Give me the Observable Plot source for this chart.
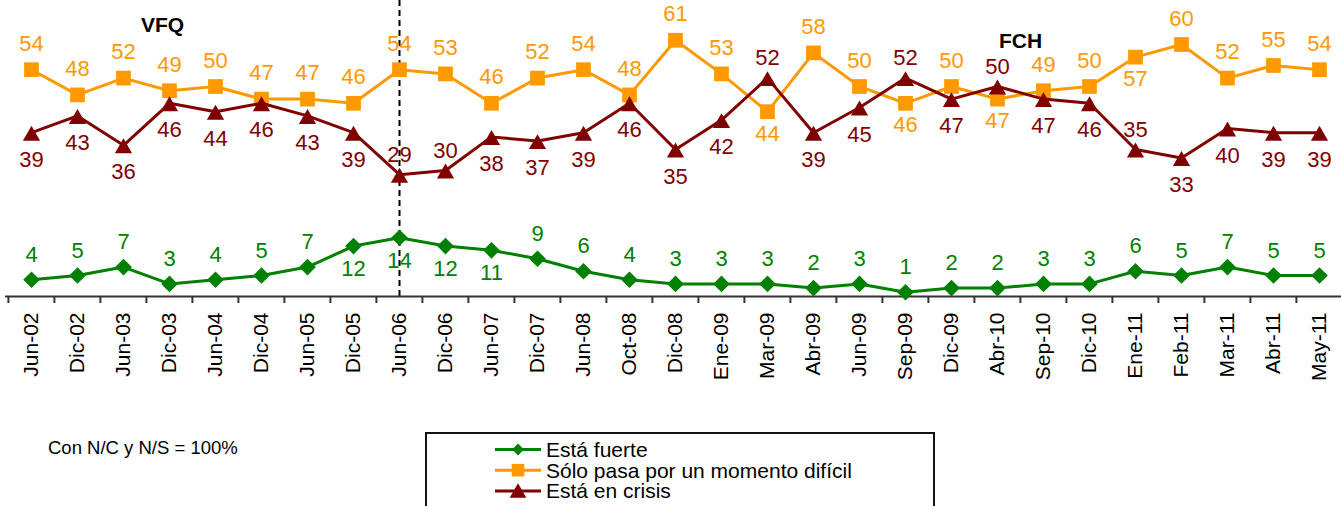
<!DOCTYPE html>
<html>
<head>
<meta charset="utf-8">
<script src="https://cdn.jsdelivr.net/npm/d3@7"></script>
<script src="https://cdn.jsdelivr.net/npm/@observablehq/plot@0.6"></script>
<style>
  html, body { margin: 0; padding: 0; background: #fff; }
  body { font-family: "Liberation Sans", Arial, sans-serif; }
  #wrap { width: 1341px; height: 506px; overflow: hidden; position: relative; }
  #wrap svg { display: block; }
</style>
</head>
<body>
<div id="wrap"></div>
<script>
// ---------- data ----------
const categories = ["Jun-02","Dic-02","Jun-03","Dic-03","Jun-04","Dic-04","Jun-05","Dic-05","Jun-06","Dic-06",
  "Jun-07","Dic-07","Jun-08","Oct-08","Dic-08","Ene-09","Mar-09","Abr-09","Jun-09","Sep-09",
  "Dic-09","Abr-10","Sep-10","Dic-10","Ene-11","Feb-11","Mar-11","Abr-11","May-11"];
const fuerte  = [4,5,7,3,4,5,7,12,14,12,11,9,6,4,3,3,3,2,3,1,2,2,3,3,6,5,7,5,5];
const dificil = [54,48,52,49,50,47,47,46,54,53,46,52,54,48,61,53,44,58,50,46,50,47,49,50,57,60,52,55,54];
const crisis  = [39,43,36,46,44,46,43,39,29,30,38,37,39,46,35,42,52,39,45,52,47,50,47,46,35,33,40,39,39];
const seriesNames = ["Está fuerte","Sólo pasa por un momento difícil","Está en crisis"];
// label placement: a = above the point, b = below
const fuertePos  = "a a a a a a a b b b b a a a a a a a a a a a a a a a a a a".split(" ");
const dificilPos = "a a a a a a a a a a a a a a a a b a a b a b a a b a a a a".split(" ");
const crisisPos  = "b b b b b b b b a a b b b b b b a b b a b a b b a b b b b".split(" ");
const periodLabels = [{label: "VFQ", cat: "Dic-03"}, {label: "FCH", cat: "Sep-10"}];
const dividerAt = ["Jun-06"];
const caption = "Con N/C y N/S = 100%";

// ---------- layout ----------
const W = 1341, H = 400;
const xRange = [5, 1345];
const bw = (xRange[1] - xRange[0]) / categories.length;
const FONT = '"Liberation Sans", Arial, sans-serif';

const series = [
  {values: fuerte,  pos: fuertePos,  color: "#008000", symbol: "diamond2", r: 7.5, mdy: 0, up: -25, down: 23},
  {values: dificil, pos: dificilPos, color: "#FF9900", symbol: "square",   r: 8.3, mdy: 0, up: -26, down: 22},
  {values: crisis,  pos: crisisPos,  color: "#800000", symbol: "triangle", r: 6.4, mdy: 3, up: -20, down: 27}
];

const marks = [
  Plot.ruleX(dividerAt, {x: d => d, stroke: "#000", strokeWidth: 2, strokeDasharray: "6,4", insetTop: -2}),
  Plot.ruleY([0], {stroke: "#333", strokeWidth: 2}),
  Plot.axisX({tickSize: 7, dx: -bw / 2, tickFormat: () => "", stroke: "#333", strokeWidth: 2, label: null}),
  Plot.axisX({tickSize: 0, tickRotate: -90, tickPadding: 16, fontSize: 21, fill: "#000", label: null})
];

for (const s of series) {
  const rows = categories.map((c, i) => ({cat: c, value: s.values[i], pos: s.pos[i]}));
  marks.push(Plot.line(rows, {x: "cat", y: "value", stroke: s.color, strokeWidth: 3}));
  marks.push(Plot.dot(rows, {x: "cat", y: "value", symbol: s.symbol, r: s.r, fill: s.color, stroke: "none", dy: s.mdy}));
  marks.push(Plot.text(rows.filter(d => d.pos === "a"), {x: "cat", y: "value", text: d => String(d.value), fill: s.color, fontSize: 22, dy: s.up}));
  marks.push(Plot.text(rows.filter(d => d.pos === "b"), {x: "cat", y: "value", text: d => String(d.value), fill: s.color, fontSize: 22, dy: s.down}));
}

marks.push(Plot.text(periodLabels.slice(0, 1), {x: "cat", text: "label", frameAnchor: "top", dx: -7, dy: 15, fontWeight: "bold", fontSize: 21, fill: "#000"}));
marks.push(Plot.text(periodLabels.slice(1), {x: "cat", text: "label", frameAnchor: "top", dx: -23, dy: 31, fontWeight: "bold", fontSize: 21, fill: "#000"}));

const chart = Plot.plot({
  width: W,
  height: H,
  marginTop: 2,
  marginBottom: 104,
  marginLeft: 5,
  marginRight: 0,
  x: {type: "band", domain: categories, range: xRange, padding: 0, axis: null, label: null},
  y: {domain: [0, 70], axis: null},
  style: {fontFamily: FONT, background: "#fff", overflow: "visible"},
  marks
});

const wrap = document.getElementById("wrap");
wrap.appendChild(chart);

// ---------- caption + legend (below the chart) ----------
const leg = d3.create("svg").attr("width", W).attr("height", 106)
  .style("font-family", FONT).style("display", "block");
leg.append("text").attr("x", 48).attr("y", 53.5).attr("font-size", 18.5).attr("fill", "#000").text(caption);
leg.append("rect").attr("x", 426).attr("y", 33).attr("width", 508).attr("height", 100)
  .attr("fill", "none").attr("stroke", "#111").attr("stroke-width", 2);
const legSymbols = [
  {type: d3.symbolDiamond2, size: 90, dy: 0},
  {type: d3.symbolSquare, size: 160, dy: 0},
  {type: d3.symbolTriangle, size: 120, dy: 2}
];
seriesNames.forEach((name, i) => {
  const cy = 49.5 + i * 20.7;
  const g = leg.append("g");
  g.append("line").attr("x1", 495).attr("x2", 541).attr("y1", cy).attr("y2", cy)
    .attr("stroke", series[i].color).attr("stroke-width", 3);
  g.append("path").attr("d", d3.symbol(legSymbols[i].type, legSymbols[i].size)())
    .attr("transform", `translate(518,${cy + legSymbols[i].dy})`).attr("fill", series[i].color);
  g.append("text").attr("x", 546).attr("y", cy + 7.3).attr("font-size", 21).attr("fill", "#000").text(name);
});
wrap.appendChild(leg.node());
</script>
</body>
</html>
